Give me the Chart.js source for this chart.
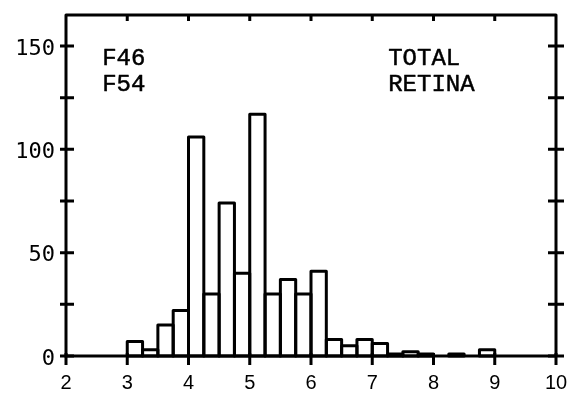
<!DOCTYPE html>
<html>
<head>
<meta charset="utf-8">
<script src="https://cdn.jsdelivr.net/npm/chart.js@4/dist/chart.umd.min.js"></script>
<style>
  html, body { margin: 0; padding: 0; background: #fff; }
  #wrap { width: 578px; height: 394px; }
</style>
</head>
<body>
<div id="wrap"><canvas id="histChart"></canvas></div>
<script>
// bin centres (bin width 0.25) and counts
const binCenters = [3.125, 3.375, 3.625, 3.875, 4.125, 4.375, 4.625, 4.875,
                    5.125, 5.375, 5.625, 5.875, 6.125, 6.375, 6.625, 6.875,
                    7.125, 7.375, 7.625, 7.875, 8.125, 8.375, 8.625, 8.875];
const counts = [7, 3, 15, 22, 106, 30, 74, 40,
                117, 30, 37, 30, 41, 8, 5, 8,
                6, 1, 2, 1, 0, 1, 0, 3];

const xTickLabels = [2, 3, 4, 5, 6, 7, 8, 9, 10];
const yTickLabels = [0, 50, 100, 150];
const yTickMarks = [0, 25, 50, 75, 100, 125, 150];
const topTickMarks = [3, 4, 5, 6, 7, 8, 9];

const notes = [
    { text: "F46", x: 2.59, y: 141 },
    { text: "F54", x: 2.59, y: 128 },
    { text: "TOTAL", x: 7.26, y: 141 },
    { text: "RETINA", x: 7.26, y: 128 }
];

const ctx = document.getElementById("histChart").getContext("2d");

// frame, crossing tick marks and text notes
const framePlugin = {
    id: "frame",
    afterDatasetsDraw(chart) {
        const c = chart.ctx;
        const xs = chart.scales.x;
        const ys = chart.scales.y;
        const left = xs.getPixelForValue(2);
        const right = xs.getPixelForValue(10);
        const top = ys.getPixelForValue(165);
        const bottom = ys.getPixelForValue(0);

        c.save();
        // bar outlines, stroked centred so shared edges stay one line
        c.strokeStyle = "#000";
        c.lineWidth = 3;
        c.lineJoin = "round";
        chart.getDatasetMeta(0).data.forEach(bar => {
            const p = bar.getProps(["x", "y", "base", "width"], true);
            if (p.base - p.y < 0.5) return;
            c.strokeRect(p.x - p.width / 2, p.y, p.width, p.base - p.y);
        });

        c.lineWidth = 3;
        c.lineCap = "butt";
        c.beginPath();
        c.moveTo(left, bottom);
        c.lineTo(left, top);
        c.lineTo(right, top);
        c.lineTo(right, bottom);
        c.lineTo(left - 1.5, bottom);
        c.stroke();

        c.beginPath();
        yTickMarks.forEach(v => {
            const py = ys.getPixelForValue(v);
            c.moveTo(left - 6, py);
            c.lineTo(left + 8, py);
            c.moveTo(right - 8, py);
            c.lineTo(right + 8, py);
        });
        xTickLabels.forEach(v => {
            const px = xs.getPixelForValue(v);
            c.moveTo(px, bottom - 3);
            c.lineTo(px, bottom + 9);
        });
        topTickMarks.forEach(v => {
            const px = xs.getPixelForValue(v);
            c.moveTo(px, top);
            c.lineTo(px, top + 6);
        });
        c.stroke();

        c.fillStyle = "#000";
        c.strokeStyle = "#000";
        c.lineWidth = 0.5;
        c.font = "24px 'Liberation Mono', monospace";
        c.textAlign = "left";
        c.textBaseline = "alphabetic";
        notes.forEach(n => {
            const tx = xs.getPixelForValue(n.x);
            const ty = ys.getPixelForValue(n.y);
            c.fillText(n.text, tx, ty);
            c.strokeText(n.text, tx, ty);
        });
        c.restore();
    }
};

new Chart(ctx, {
    type: "bar",
    data: {
        datasets: [{
            data: binCenters.map((x, i) => ({ x: x, y: counts[i] })),
            backgroundColor: "#fff",
            borderWidth: 0,
            barPercentage: 1,
            categoryPercentage: 1
        }]
    },
    options: {
        responsive: true,
        maintainAspectRatio: false,
        animation: false,
        devicePixelRatio: 1,
        layout: { padding: { top: 15, right: 22, left: 0, bottom: 0 } },
        plugins: {
            legend: { display: false },
            tooltip: { enabled: false }
        },
        scales: {
            x: {
                type: "linear",
                min: 2,
                max: 10,
                offset: false,
                grid: { display: false },
                border: { display: false },
                afterFit: scale => {
                    scale.height = 38;
                    scale.paddingLeft = 0;
                    scale.paddingRight = 0;
                },
                ticks: {
                    stepSize: 1,
                    autoSkip: false,
                    maxRotation: 0,
                    padding: 7,
                    color: "#000",
                    font: { family: "'Liberation Sans', Arial, sans-serif", size: 20 },
                    callback: v => xTickLabels.includes(v) ? String(v) : ""
                }
            },
            y: {
                min: 0,
                max: 165,
                grid: { display: false },
                border: { display: false },
                afterFit: scale => {
                    scale.width = 66;
                    scale.paddingTop = 0;
                    scale.paddingBottom = 0;
                },
                ticks: {
                    stepSize: 50,
                    includeBounds: false,
                    padding: 3,
                    labelOffset: 3,
                    color: "#000",
                    font: { family: "'DejaVu Sans Mono', monospace", size: 22 },
                    callback: v => yTickLabels.includes(v) ? String(v) : ""
                }
            }
        }
    },
    plugins: [framePlugin]
});
</script>
</body>
</html>
